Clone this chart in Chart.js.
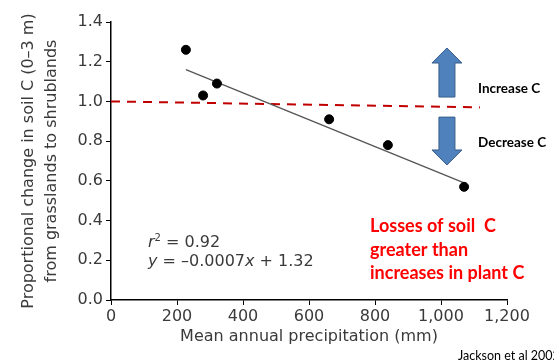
<!DOCTYPE html>
<html>
<head>
<meta charset="utf-8">
<script src="https://cdn.jsdelivr.net/npm/chart.js@4/dist/chart.umd.min.js"></script>
<style>
  html, body { margin: 0; padding: 0; background: #fff; }
  #wrap { width: 554px; height: 360px; }
</style>
</head>
<body>
<div id="wrap"><canvas id="soil-chart"></canvas></div>
<script>
// sites: mean annual precipitation (mm) vs proportional change in soil C
const precip = [227, 279, 321, 661, 839, 1070];
const soilChange = [1.26, 1.03, 1.09, 0.91, 0.78, 0.57];

// fitted line end points (y = -0.0007x + 1.32)
const fitX = [227, 1070];
const fitY = [1.16, 0.59];

// reference "no change" line, drawn a little off level as in the slide
const refX = [0, 1118];
const refY = [1.0, 0.97];

const xTicks = [0, 200, 400, 600, 800, 1000, 1200];
const yTicks = [0.0, 0.2, 0.4, 0.6, 0.8, 1.0, 1.2, 1.4];

const toPoints = (xs, ys) => xs.map((x, i) => ({ x, y: ys[i] }));

const sans = 'DejaVu Sans';
const greyText = '#3a3a3a';

// block arrows and slide text
const annotations = {
    id: 'annotations',
    afterDraw(chart) {
        const { ctx, scales } = chart;
        const xs = scales.x;
        const ys = scales.y;

        function arrow(xVal, fromY, toY) {
            const cx = xs.getPixelForValue(xVal);
            const y0 = ys.getPixelForValue(fromY);
            const y1 = ys.getPixelForValue(toY);
            const dir = y1 < y0 ? -1 : 1;
            const shaft = 8, head = 15, headLen = 15;
            const hb = y1 - dir * headLen;

            ctx.save();
            ctx.beginPath();
            ctx.moveTo(cx - shaft, y0);
            ctx.lineTo(cx - shaft, hb);
            ctx.lineTo(cx - head, hb);
            ctx.lineTo(cx, y1);
            ctx.lineTo(cx + head, hb);
            ctx.lineTo(cx + shaft, hb);
            ctx.lineTo(cx + shaft, y0);
            ctx.closePath();
            ctx.fillStyle = '#4f81bd';
            ctx.strokeStyle = '#385d8a';
            ctx.lineWidth = 1;
            ctx.fill();
            ctx.stroke();
            ctx.restore();
        }

        arrow(1018, 1.022, 1.269);
        arrow(1018, 0.921, 0.68);

        ctx.save();
        ctx.textBaseline = 'middle';
        ctx.textAlign = 'left';

        ctx.fillStyle = '#000';
        ctx.font = 'bold 13.5px Lato';
        ctx.fillText('Increase C', 478, 89);
        ctx.fillText('Decrease C', 478, 143);

        ctx.fillStyle = '#ff0000';
        ctx.font = 'bold 18px Lato';
        ctx.fillText('Losses of soil  C', 370, 226);
        ctx.fillText('greater than', 370, 250);
        ctx.fillText('increases in plant C', 370, 273);

        // regression statistics, mixing italic symbols and upright numbers
        function runs(parts, x, y) {
            parts.forEach(([txt, font, dy]) => {
                ctx.font = font;
                ctx.fillText(txt, x, y + (dy || 0));
                x += ctx.measureText(txt).width;
            });
        }
        ctx.fillStyle = greyText;
        const up = `16px "${sans}"`;
        const it = `italic 16px "${sans}"`;
        runs([['r', it], ['2', `10px "${sans}"`, -5], [' = 0.92', up]], 148, 243);
        runs([['y', it], [' = \u20130.0007', up], ['x', it], [' + 1.32', up]], 148, 262);

        ctx.fillStyle = '#000';
        ctx.font = '12.5px Lato';
        ctx.fillText('Jackson et al 2002', 458, 356);
        ctx.restore();
    },
};

new Chart(document.getElementById('soil-chart'), {
    type: 'scatter',
    data: {
        datasets: [
            {
                label: 'Sites',
                data: toPoints(precip, soilChange),
                backgroundColor: '#000',
                borderColor: '#000',
                pointRadius: 4.5,
                order: 0,
            },
            {
                label: 'Fit',
                data: toPoints(fitX, fitY),
                showLine: true,
                borderColor: '#555',
                borderWidth: 1.3,
                pointRadius: 0,
                order: 1,
            },
            {
                label: 'No change',
                data: toPoints(refX, refY),
                showLine: true,
                borderColor: '#c00000',
                borderWidth: 2,
                borderDash: [9, 7],
                pointRadius: 0,
                order: 2,
            },
        ],
    },
    options: {
        responsive: true,
        maintainAspectRatio: false,
        animation: false,
        layout: { padding: { top: 22, right: 47, left: 0, bottom: 0 } },
        plugins: {
            legend: { display: false },
            tooltip: { enabled: false },
        },
        scales: {
            x: {
                type: 'linear',
                min: 0,
                max: 1200,
                afterFit(scale) { scale.height = 60; },
                afterBuildTicks(scale) { scale.ticks = xTicks.map(v => ({ value: v })); },
                border: { color: '#000', width: 1.5 },
                grid: { drawOnChartArea: false, drawTicks: true, tickLength: 5, color: '#000' },
                ticks: {
                    color: greyText,
                    font: { family: sans, size: 16 },
                    padding: 2,
                    callback: v => v.toLocaleString('en-US'),
                },
                title: {
                    display: true,
                    text: 'Mean annual precipitation (mm)',
                    color: greyText,
                    font: { family: sans, size: 16 },
                    padding: { top: 0, bottom: 14 },
                },
            },
            y: {
                min: 0,
                max: 1.4,
                afterFit(scale) { scale.width = 111; },
                afterBuildTicks(scale) { scale.ticks = yTicks.map(v => ({ value: v })); },
                border: { color: '#000', width: 1.5 },
                grid: { drawOnChartArea: false, drawTicks: true, tickLength: 5, color: '#000' },
                ticks: {
                    color: greyText,
                    font: { family: sans, size: 16 },
                    padding: 3,
                    callback: v => v.toFixed(1),
                },
                title: {
                    display: true,
                    text: ['Proportional change in soil C (0\u20133 m)', 'from grasslands to shrublands'],
                    color: greyText,
                    font: { family: sans, size: 16, lineHeight: 1.4 },
                    padding: { top: 18, bottom: 0 },
                },
            },
        },
    },
    plugins: [annotations],
});
</script>
</body>
</html>
